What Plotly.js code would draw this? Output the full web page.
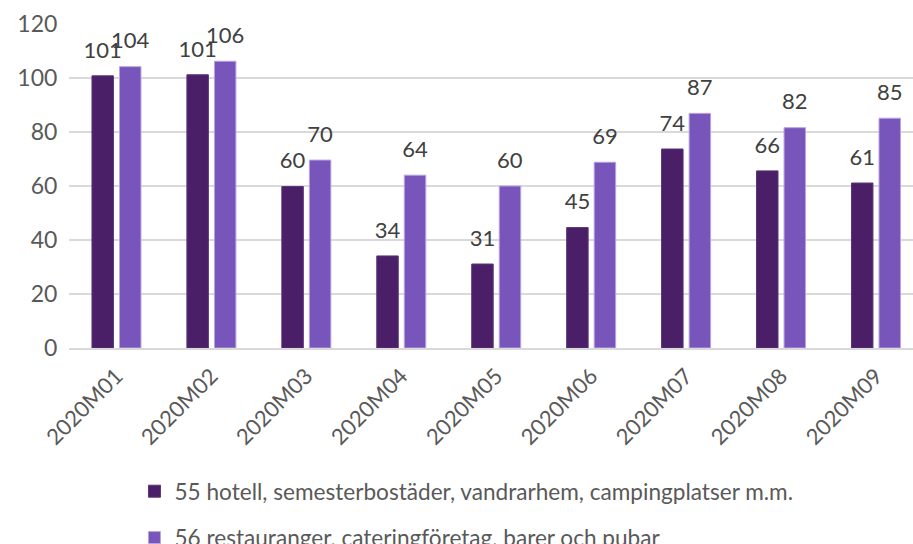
<!DOCTYPE html>
<html>
<head>
<meta charset="utf-8">
<script src="https://cdn.plot.ly/plotly-3.0.1.min.js"></script>
<style>html,body{margin:0;padding:0;background:#fff}#chart{width:913px;height:544px}</style>
</head>
<body>
<div id="chart"></div>
<script>
const categories = ["2020M01","2020M02","2020M03","2020M04","2020M05","2020M06","2020M07","2020M08","2020M09"];
const hotelValues = [100.8, 101.2, 59.8, 34.1, 31.1, 44.6, 73.7, 65.6, 61.1];
const restaurantValues = [104.2, 106.2, 69.6, 64.0, 60.0, 68.8, 86.9, 81.6, 85.1];
const seriesNames = ["55 hotell, semesterbostäder, vandrarhem, campingplatser m.m.", "56 restauranger, cateringföretag, barer och pubar"];
const yTicks = [0, 20, 40, 60, 80, 100, 120];

const FONT = "Lato, 'Open Sans', sans-serif";
const colors = ['#4A1F68', '#7855BA'];
const lineColors = ['#5a3478', '#b9a3e0'];

function bars(vals, i) {
  return {
    type: 'bar', x: categories, y: vals, name: seriesNames[i], legendgroup: 'g' + i,
    marker: {color: colors[i], line: {color: lineColors[i], width: 1}},
    hoverinfo: 'skip'
  };
}
// invisible copies on an overlaid, slightly shifted axis carry the value labels
function labels(vals, i) {
  return {
    type: 'bar', x: categories, y: vals, yaxis: 'y2', showlegend: false,
    marker: {color: 'rgba(0,0,0,0)', line: {width: 0}},
    text: vals.map(v => String(Math.round(v))),
    textposition: 'outside', constraintext: 'none', cliponaxis: false,
    textfont: {family: FONT, size: 22, color: '#404040'},
    hoverinfo: 'skip'
  };
}
const data = [
  bars(hotelValues, 0), bars(restaurantValues, 1),
  labels(hotelValues, 0), labels(restaurantValues, 1)
];
const layout = {
  width: 913, height: 544,
  margin: {l: 68.5, r: 0, t: 24, b: 196, pad: 0, autoexpand: false},
  paper_bgcolor: '#fff', plot_bgcolor: '#fff',
  font: {family: FONT, color: '#595959', size: 22},
  bargap: 0.42, bargroupgap: 0.22, barmode: 'group',
  xaxis: {
    type: 'category', range: [-0.5, 8.39], tickangle: -45,
    tickfont: {family: FONT, size: 22, color: '#595959'},
    showgrid: false, showline: true, linecolor: '#d9d9d9', linewidth: 1.5,
    ticks: 'outside', ticklen: 5, tickcolor: 'rgba(0,0,0,0)', zeroline: false, fixedrange: true, automargin: false
  },
  yaxis: {
    range: [0, 120], tickvals: yTicks, ticktext: yTicks.map(String),
    tickfont: {family: FONT, size: 23, color: '#595959'},
    showgrid: true, gridcolor: '#d9d9d9', gridwidth: 1.5,
    zeroline: false, showline: false, ticks: 'outside', ticklen: 6, tickcolor: 'rgba(0,0,0,0)',
    fixedrange: true, automargin: false
  },
  yaxis2: {
    overlaying: 'y', range: [-3.8, 116.2], visible: false, showgrid: false, zeroline: false, fixedrange: true
  },
  showlegend: true,
  legend: {
    orientation: 'v', x: (134 - 68.5) / 844.5, xanchor: 'left',
    y: (348 - 470) / 324, yanchor: 'top',
    font: {family: FONT, size: 22.6, color: '#595959'},
    tracegroupgap: 14, traceorder: 'grouped', bgcolor: 'rgba(0,0,0,0)'
  }
};
Plotly.newPlot('chart', data, layout, {staticPlot: true, displayModeBar: false});
</script>
</body>
</html>
